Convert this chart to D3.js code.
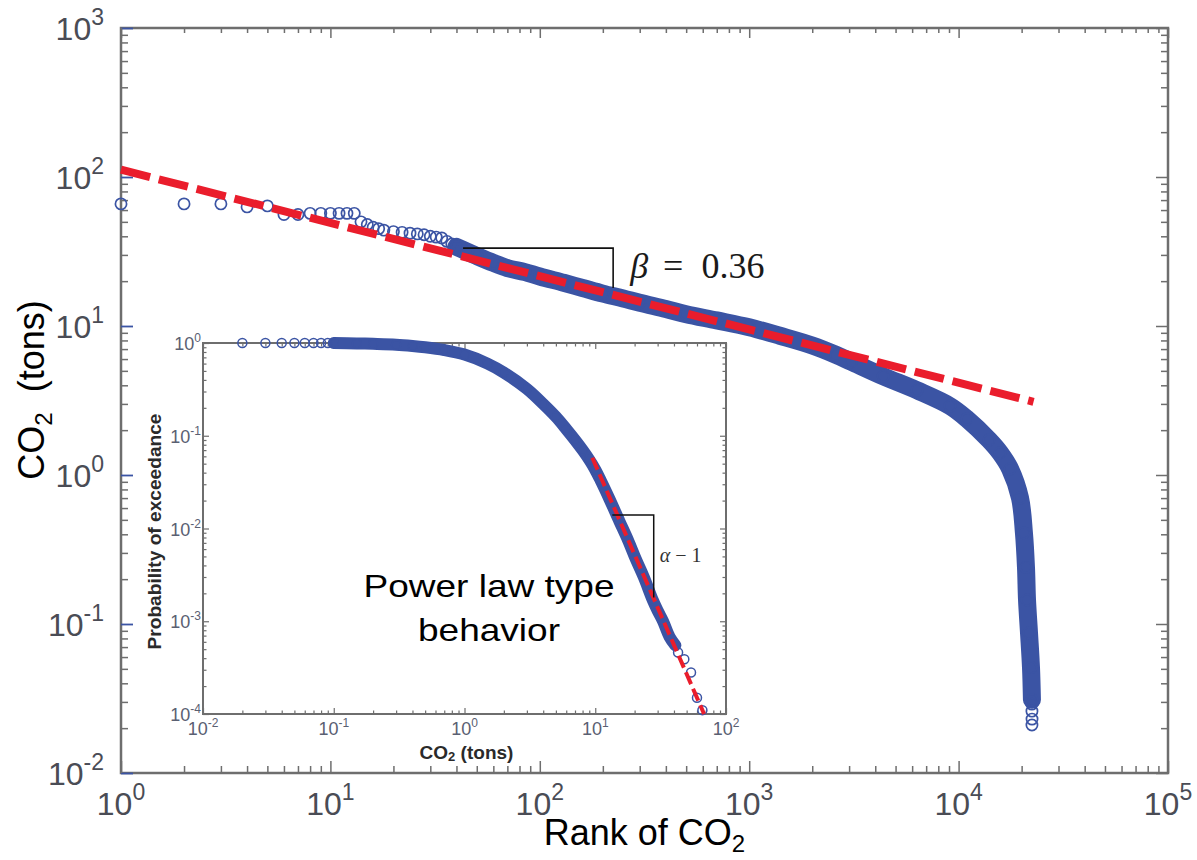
<!DOCTYPE html>
<html>
<head>
<meta charset="utf-8">
<script src="https://cdn.jsdelivr.net/npm/d3@7"></script>
<style>
  body { margin: 0; background: #fff; }
  svg { display: block; font-family: 'Liberation Sans', Arial, Helvetica, sans-serif; }
</style>
</head>
<body>
<svg id="chart" width="1197" height="860"></svg>
<script>
// ---- main plot: CO2 per rank ----
// single circles, top ranks
const mainSparseRank = [1, 2, 3, 4, 5, 6, 7, 8, 9, 10, 11, 12, 13, 14, 15, 16, 17, 18, 20, 22, 24, 26, 28, 30, 32, 34, 36, 38];
const mainSparseCO2  = [66, 66, 66, 63, 64, 56, 56, 57, 57, 57, 57, 57, 57, 50, 48, 46, 45, 44, 43, 42.5, 42, 41.5, 41, 40, 39.5, 39, 37, 35.5];
// dense band of overlapping circles
const mainBandRank = [40, 45, 50, 60, 70, 85, 100, 130, 160, 200, 250, 300, 400, 500, 700, 1000, 1400, 2000, 2600, 3075,
  4360, 6330, 9100, 10960, 13970, 15770, 17610, 19650, 20510, 20980, 21220, 21690, 22170, 22400];
const mainBandCO2  = [34, 31.5, 29.5, 26.5, 24.5, 23, 21.5, 19.5, 18, 16.5, 15.3, 14.3, 13, 12, 10.9, 9.8, 8.6, 7.4, 6.4, 5.75,
  4.6, 3.7, 2.9, 2.38, 1.72, 1.41, 1.1, 0.7, 0.41, 0.24, 0.145, 0.087, 0.051, 0.031];
// last few circles at the bottom of the tail
const mainTailRank = [22380, 22400, 22420, 22400];
const mainTailCO2  = [0.029, 0.026, 0.023, 0.021];
// power law fit (beta = 0.36) and slope triangle
const mainFitRank = [1, 22800];
const mainFitCO2  = [112, 3.1];
const betaTriRank = [43, 224, 224];
const betaTriCO2  = [33.3, 33.3, 18];

// ---- inset: probability of exceedance ----
const insetSparseCO2  = [0.02, 0.03, 0.04, 0.05, 0.06, 0.07, 0.08, 0.09, 0.1, 43, 48, 54, 60, 66];
const insetSparseProb = [1, 1, 1, 1, 1, 1, 1, 1, 1, 0.00046, 0.00039, 0.00028, 0.00015, 0.00011];
const insetBandCO2  = [0.1, 0.15, 0.2, 0.3, 0.4, 0.5, 0.7, 1, 1.5, 2, 3, 4, 5, 6, 7, 8, 9, 10, 11, 12.8, 15.3,
  17.8, 20.4, 23.5, 27.5, 30, 33, 37, 41];
const insetBandProb = [1, 0.99, 0.98, 0.96, 0.93, 0.9, 0.84, 0.75, 0.6, 0.48, 0.32, 0.22, 0.16, 0.118, 0.09, 0.07, 0.055, 0.043, 0.033, 0.021, 0.012,
  0.0075, 0.0047, 0.003, 0.0017, 0.0013, 0.001, 0.00068, 0.00055];
const insetFitCO2  = [9.5, 68];
const insetFitProb = [0.058, 0.0001];
const alphaTriCO2  = [13.5, 28, 28];
const alphaTriProb = [0.014, 0.014, 0.0018];

// tick exponents
const mainXExps  = [0, 1, 2, 3, 4, 5];
const mainYExps  = [-2, -1, 0, 1, 2, 3];
const insetXExps = [-2, -1, 0, 1, 2];
const insetYExps = [-4, -3, -2, -1, 0];

const BLUE = '#3b54a4', RED = '#ea1d2c', FRAME = '#6e6e6e';
const svg = d3.select('#chart');
const zip = (a, b) => a.map((v, i) => [v, b[i]]);

const xMain = d3.scaleLog().domain([1, 1e5]).range([121, 1168]);
const yMain = d3.scaleLog().domain([1e-2, 1e3]).range([773, 28]);
const xIn = d3.scaleLog().domain([1e-2, 1e2]).range([203, 726]);
const yIn = d3.scaleLog().domain([1e-4, 1]).range([714, 343]);

const majors = exps => exps.map(e => Math.pow(10, e));
function minors(exps) {
  const out = [];
  exps.slice(0, -1).forEach(e => { for (let k = 2; k <= 9; k++) out.push(k * Math.pow(10, e)); });
  return out;
}

// inward ticks, drawn with d3 axes
function tickRow(parent, axis, tx, ty, scale, values, size, color, width) {
  const g = parent.append('g').attr('transform', `translate(${tx},${ty})`)
    .call(axis(scale).tickValues(values).tickSize(-size).tickFormat(''));
  g.select('.domain').remove();
  g.selectAll('line').attr('stroke', color).attr('stroke-width', width);
}

function powLabel(parent, x, y, exp, anchor, size, supSize, supDy, color) {
  const t = parent.append('text').attr('x', x).attr('y', y)
    .attr('text-anchor', anchor).attr('font-size', size).attr('fill', color);
  t.append('tspan').text('10');
  t.append('tspan').attr('font-size', supSize).attr('dy', supDy).text(exp);
}

// ================= main plot =================
const main = svg.append('g');
const [mx0, mx1] = xMain.range(), [my1, my0] = yMain.range();

main.append('rect').attr('x', mx0).attr('y', my0).attr('width', mx1 - mx0).attr('height', my1 - my0)
  .attr('fill', 'none').attr('stroke', FRAME).attr('stroke-width', 2.5);

tickRow(main, d3.axisLeft, mx0, 0, yMain, minors(mainYExps), 7, FRAME, 1.5);
tickRow(main, d3.axisLeft, mx0, 0, yMain, majors(mainYExps), 12, BLUE, 1.8);
tickRow(main, d3.axisRight, mx1, 0, yMain, minors(mainYExps), 7, FRAME, 1.5);
tickRow(main, d3.axisRight, mx1, 0, yMain, majors(mainYExps), 12, FRAME, 1.5);
tickRow(main, d3.axisTop, 0, my0, xMain, minors(mainXExps), 5, FRAME, 1.5);
tickRow(main, d3.axisTop, 0, my0, xMain, majors(mainXExps), 10, FRAME, 1.5);
tickRow(main, d3.axisBottom, 0, my1, xMain, minors(mainXExps), 7, FRAME, 1.5);
tickRow(main, d3.axisBottom, 0, my1, xMain, majors(mainXExps), 12, FRAME, 1.5);

mainYExps.forEach(e => powLabel(main, 104, yMain(Math.pow(10, e)) + 12, e, 'end', 32, 23, -15, '#4a4c55'));
mainXExps.forEach(e => powLabel(main, xMain(Math.pow(10, e)), 815, e, 'middle', 32, 23, -15, '#4a4c55'));

const xt = main.append('text').attr('x', (mx0 + mx1) / 2).attr('y', 845)
  .attr('text-anchor', 'middle').attr('font-size', 36).attr('fill', '#000');
xt.append('tspan').text('Rank of CO');
xt.append('tspan').attr('font-size', 24).attr('dy', 7).text('2');

const yt = main.append('text').attr('transform', 'translate(44,390) rotate(-90)')
  .attr('text-anchor', 'middle').attr('font-size', 36).attr('fill', '#000');
yt.append('tspan').text('CO');
yt.append('tspan').attr('font-size', 24).attr('dy', 8).text('2');
yt.append('tspan').attr('dy', -8).text('\u00a0\u00a0(tons)');

// data: band + circles
const mainLine = d3.line().x(d => xMain(d[0])).y(d => yMain(d[1])).curve(d3.curveCatmullRom.alpha(0.5));
main.append('path').datum(zip(mainBandRank, mainBandCO2)).attr('d', mainLine)
  .attr('fill', 'none').attr('stroke', BLUE).attr('stroke-width', 18)
  .attr('stroke-linecap', 'round').attr('stroke-linejoin', 'round');

const mainPts = zip(mainSparseRank, mainSparseCO2)
  .concat(zip(mainBandRank, mainBandCO2), zip(mainTailRank, mainTailCO2));
main.append('g').selectAll('circle').data(mainPts).join('circle')
  .attr('cx', d => xMain(d[0])).attr('cy', d => yMain(d[1])).attr('r', 5.6)
  .attr('fill', 'none').attr('stroke', BLUE).attr('stroke-width', 1.7);

main.append('path').datum(zip(mainFitRank, mainFitCO2))
  .attr('d', d3.line().x(d => xMain(d[0])).y(d => yMain(d[1])))
  .attr('fill', 'none').attr('stroke', RED).attr('stroke-width', 8).attr('stroke-dasharray', '30 9');

const betaTri = zip(betaTriRank, betaTriCO2);
main.append('path').datum(betaTri)
  .attr('d', d3.line().x(d => xMain(d[0])).y(d => yMain(d[1])))
  .attr('fill', 'none').attr('stroke', '#111').attr('stroke-width', 1.6);

const bx = xMain(betaTri[1][0]) + 17;
const by = (yMain(betaTri[1][1]) + yMain(betaTri[2][1])) / 2 + 10;
const bt = main.append('text').attr('x', bx).attr('y', by)
  .attr('font-family', "'Liberation Serif', 'DejaVu Serif', serif").attr('font-size', 36).attr('fill', '#1a1a1a');
bt.append('tspan').attr('font-style', 'italic').text('β');
bt.append('tspan').attr('dx', 15).text('=');
bt.append('tspan').attr('dx', 18).text('0.36');

// ================= inset =================
const inset = svg.append('g');
const [ix0, ix1] = xIn.range(), [iy1, iy0] = yIn.range();

inset.append('rect').attr('x', ix0).attr('y', iy0).attr('width', ix1 - ix0).attr('height', iy1 - iy0)
  .attr('fill', '#fff').attr('stroke', 'none');

tickRow(inset, d3.axisLeft, ix0, 0, yIn, minors(insetYExps), 3.5, FRAME, 1.2);
tickRow(inset, d3.axisLeft, ix0, 0, yIn, majors(insetYExps), 6, FRAME, 1.2);
tickRow(inset, d3.axisRight, ix1, 0, yIn, minors(insetYExps), 3.5, FRAME, 1.2);
tickRow(inset, d3.axisRight, ix1, 0, yIn, majors(insetYExps), 6, FRAME, 1.2);
tickRow(inset, d3.axisTop, 0, iy0, xIn, minors(insetXExps), 3.5, FRAME, 1.2);
tickRow(inset, d3.axisTop, 0, iy0, xIn, majors(insetXExps), 6, FRAME, 1.2);
tickRow(inset, d3.axisBottom, 0, iy1, xIn, minors(insetXExps), 3.5, FRAME, 1.2);
tickRow(inset, d3.axisBottom, 0, iy1, xIn, majors(insetXExps), 6, FRAME, 1.2);

inset.append('rect').attr('x', ix0).attr('y', iy0).attr('width', ix1 - ix0).attr('height', iy1 - iy0)
  .attr('fill', 'none').attr('stroke', FRAME).attr('stroke-width', 2);

insetYExps.forEach(e => powLabel(inset, ix0 - 2, yIn(Math.pow(10, e)) + 7, e, 'end', 18, 12, -8, '#5a6072'));
insetXExps.forEach(e => powLabel(inset, xIn(Math.pow(10, e)), 735, e, 'middle', 18, 12, -8, '#5a6072'));

inset.append('text').attr('transform', `translate(${ix0 - 42},${(iy0 + iy1) / 2 + 3}) rotate(-90)`)
  .attr('text-anchor', 'middle').attr('font-size', 19).attr('font-weight', 'bold').attr('fill', '#2a2a2a')
  .attr('textLength', 236).attr('lengthAdjust', 'spacingAndGlyphs')
  .text('Probability of exceedance');

const it = inset.append('text').attr('x', (ix0 + ix1) / 2 + 2).attr('y', 759)
  .attr('text-anchor', 'middle').attr('font-size', 19).attr('font-weight', 'bold').attr('fill', '#2a2a2a');
it.append('tspan').text('CO');
it.append('tspan').attr('font-size', 13).attr('dy', 2).text('2');
it.append('tspan').attr('dy', -2).text(' (tons)');

const inLine = d3.line().x(d => xIn(d[0])).y(d => yIn(d[1])).curve(d3.curveCatmullRom.alpha(0.5));
inset.append('path').datum(zip(insetBandCO2, insetBandProb)).attr('d', inLine)
  .attr('fill', 'none').attr('stroke', BLUE).attr('stroke-width', 12)
  .attr('stroke-linecap', 'round').attr('stroke-linejoin', 'round');

inset.append('g').selectAll('circle')
  .data(zip(insetSparseCO2, insetSparseProb).concat(zip(insetBandCO2, insetBandProb))).join('circle')
  .attr('cx', d => xIn(d[0])).attr('cy', d => yIn(d[1])).attr('r', 4.5)
  .attr('fill', 'none').attr('stroke', BLUE).attr('stroke-width', 1.5);

inset.append('path').datum(zip(insetFitCO2, insetFitProb))
  .attr('d', d3.line().x(d => xIn(d[0])).y(d => yIn(d[1])))
  .attr('fill', 'none').attr('stroke', RED).attr('stroke-width', 4).attr('stroke-dasharray', '13 5');

const alphaTri = zip(alphaTriCO2, alphaTriProb);
inset.append('path').datum(alphaTri)
  .attr('d', d3.line().x(d => xIn(d[0])).y(d => yIn(d[1])))
  .attr('fill', 'none').attr('stroke', '#111').attr('stroke-width', 1.5);

const at = inset.append('text').attr('x', xIn(alphaTri[1][0]) + 6)
  .attr('y', (yIn(alphaTri[1][1]) + yIn(alphaTri[2][1])) / 2 + 6)
  .attr('font-family', "'Liberation Serif', 'DejaVu Serif', serif").attr('font-size', 20).attr('fill', '#333');
at.append('tspan').attr('font-style', 'italic').text('α');
at.append('tspan').attr('dx', 5).text('−');
at.append('tspan').attr('dx', 5).text('1');

const pl = inset.append('g').attr('font-size', 32).attr('fill', '#000').attr('text-anchor', 'middle');
pl.append('text').attr('x', 489).attr('y', 597)
  .attr('textLength', 251).attr('lengthAdjust', 'spacingAndGlyphs').text('Power law type');
pl.append('text').attr('x', 489).attr('y', 641)
  .attr('textLength', 142).attr('lengthAdjust', 'spacingAndGlyphs').text('behavior');
</script>
</body>
</html>
